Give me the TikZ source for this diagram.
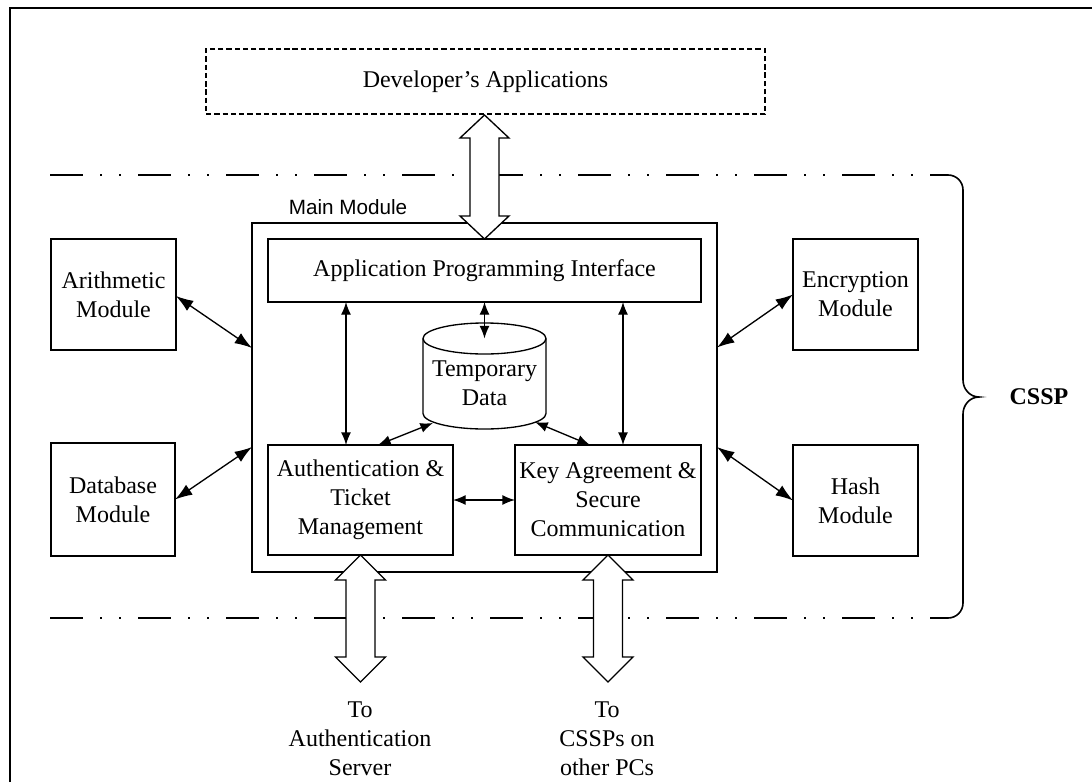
\documentclass[tikz,border=0pt]{standalone}
\usepackage{fontspec}
\setmainfont{Liberation Serif}
\setsansfont{Liberation Sans}
\usetikzlibrary{arrows.meta,calc}
\tikzset{
  boxnode/.style={draw, line width=1pt, inner sep=0pt, outer sep=0pt, align=center,
    font=\fontsize{18}{21.75}\selectfont},
  txt/.style={inner sep=0pt, outer sep=0pt, align=center, font=\fontsize{18}{21.75}\selectfont},
  sidearrow/.style={line width=1pt, {Latex[length=13pt,width=9pt]}-{Latex[length=13pt,width=9pt]}},
  inarrow/.style={line width=1pt, {Latex[length=9.5pt,width=7.5pt]}-{Latex[length=9.5pt,width=7.5pt]}},
  bigarrow/.style={draw, line width=1pt, fill=white, line join=miter},
  ddline/.style={line width=1.5pt, dash pattern=on 24.75pt off 12.75pt on 1.5pt off 12.75pt on 1.5pt off 12.75pt},
}
\begin{document}
\begin{tikzpicture}[x=0.75pt,y=-0.75pt]
\useasboundingbox (0,0) rectangle (1092,782);
% outer frame (cut off at right and bottom)
\draw[line width=1.5pt] (10.3,782) -- (10.3,7.7) -- (1092,7.7);

% developer's applications
\node[boxnode, dash pattern=on 4pt off 2.2pt, minimum width=559*0.75pt, minimum height=65*0.75pt]
  (dev) at (485.5,81.5) {Developer’s Applications};

% dash-dot boundaries and brace
\draw[ddline] (50,175) -- (930,175);
\draw[ddline] (50,618) -- (930,618);
\draw[line width=1.2pt] (930,175) -- (948,175) to[out=0,in=90] (963,190) -- (963,380)
  to[out=-90,in=180] (979,397) to[out=180,in=90] (963,414) -- (963,603)
  to[out=-90,in=0] (948,618) -- (930,618);
\node[txt, font=\fontsize{18}{21.75}\selectfont\bfseries] (cssp) at (1039,397) {CSSP};

% main module
\node[draw, line width=1pt, inner sep=0pt, outer sep=0pt, minimum width=465*0.75pt, minimum height=349*0.75pt]
  (main) at (484.5,397.5) {};
\node[inner sep=0pt, font=\sffamily\fontsize{15.5}{18}\selectfont] (mainlbl) at (348,207) {Main Module};

\node[boxnode, minimum width=433*0.75pt, minimum height=63*0.75pt] (api) at (484.5,270.5)
  {Application Programming Interface};
\node[boxnode, minimum width=185*0.75pt, minimum height=110*0.75pt] (auth) at (360.5,500)
  {Authentication \&\\Ticket\\Management};
\node[boxnode, minimum width=186*0.75pt, minimum height=110*0.75pt] (key) at (608,500)
  {Key Agreement \&\\Secure\\Communication};

% cylinder: temporary data
\draw[line width=1pt] (484.5,338.5) ellipse [x radius=46.125pt, y radius=11.625pt];
\draw[line width=1pt] (423,338.5) -- (423,413.5)
  arc[start angle=180, end angle=360, x radius=46.125pt, y radius=11.625pt] -- (546,338.5);
\node[txt] (tmp) at (484.5,383) {Temporary\\Data};
\coordinate (tmptop) at (484.5,338.5);
\coordinate (tmpL) at (433,423);
\coordinate (tmpR) at (535,422);

% side modules
\node[boxnode, minimum width=125*0.75pt, minimum height=111*0.75pt] (arith) at (113.5,294.5) {Arithmetic\\Module};
\node[boxnode, minimum width=124*0.75pt, minimum height=113*0.75pt] (db) at (113,499.5) {Database\\Module};
\node[boxnode, minimum width=125*0.75pt, minimum height=111*0.75pt] (enc) at (855.5,294.5) {Encryption\\Module};
\node[boxnode, minimum width=125*0.75pt, minimum height=111*0.75pt] (hash) at (855.5,500.5) {Hash\\Module};

% side connectors
\draw[sidearrow] ($(arith.east)+(0,1.5)$) -- ($(main.west)+(0,-49.5)$);
\draw[sidearrow] (db.east) -- ($(main.west)+(0,49.5)$);
\draw[sidearrow] (enc.west) -- ($(main.east)+(0,-50)$);
\draw[sidearrow] (hash.west) -- ($(main.east)+(0,49.5)$);

% inner connectors
\draw[inarrow] (api.south) -- (tmptop);
\draw[inarrow] ($(api.south west)+(78,0)$) -- ($(auth.north west)+(78,0)$);
\draw[inarrow] ($(api.south east)+(-78,0)$) -- ($(key.north east)+(-78,0)$);
\draw[inarrow] (tmpL) -- ($(auth.north west)+(110,0)$);
\draw[inarrow] (tmpR) -- ($(key.north west)+(75,0)$);
\draw[inarrow] (auth.east) -- (key.west);

% big hollow double arrows
\draw[bigarrow] (api.north) -- ++(24.5,-23) -- ++(-10,0) -- ++(0,-78) -- ++(10,0) -- ++(-24.5,-23)
  -- ++(-24.5,23) -- ++(10,0) -- ++(0,78) -- ++(-10,0) -- cycle;
\draw[bigarrow] (auth.south) -- ++(25,25) -- ++(-10.5,0) -- ++(0,77) -- ++(10.5,0) -- ++(-25,25)
  -- ++(-25,-25) -- ++(10.5,0) -- ++(0,-77) -- ++(-10.5,0) -- cycle;
\draw[bigarrow] (key.south) -- ++(25,25) -- ++(-10.5,0) -- ++(0,77) -- ++(10.5,0) -- ++(-25,25)
  -- ++(-25,-25) -- ++(10.5,0) -- ++(0,-77) -- ++(-10.5,0) -- cycle;

% destination labels
\node[txt] (toauth) at (360,739) {To\\Authentication\\Server};
\node[txt] (tocssp) at (607,739) {To\\CSSPs on\\other PCs};
\end{tikzpicture}
\end{document}
